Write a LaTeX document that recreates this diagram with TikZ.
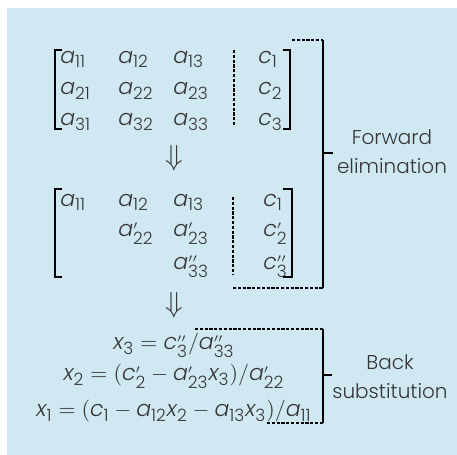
\documentclass[tikz,border=0pt]{standalone}
\usepackage{amsmath}
\usepackage{fontspec}
\setmainfont{Poppins}[UprightFont=* Light, ItalicFont=* Light Italic]
\usepackage{tikz}
\usetikzlibrary{arrows.meta}

\definecolor{panelblue}{RGB}{207,232,242}
\definecolor{inkgray}{RGB}{55,55,55}
\DeclareMathSizes{11}{11}{8.5}{6.5}
\newcommand{\va}[1]{\text{\itshape #1}}
\newcommand{\ix}[1]{\text{#1}}
\newcommand{\pa}{{\scriptscriptstyle\prime}}
\newcommand{\pb}{{\scriptscriptstyle\prime\prime}}

\tikzset{
  entry/.style={anchor=base west,inner sep=0pt,text height=7pt,text depth=2pt,text=inkgray,font=\fontsize{11}{13}\selectfont},
  eqline/.style={anchor=base,inner sep=0pt,text height=7pt,text depth=2pt,text=inkgray,font=\fontsize{11}{13}\selectfont},
  sidetext/.style={align=center,inner sep=0pt,text=inkgray,font=\fontsize{10}{14.5}\selectfont},
  stepsign/.style={inner sep=0pt,text=inkgray,font=\fontsize{15}{15}\selectfont},
  brk/.style={line width=1pt},
  dashbrk/.style={line width=1pt,dash pattern=on 1.6pt off 0.8pt}
}

\begin{document}
\begin{tikzpicture}[x=0.5pt,y=-0.5pt]
\useasboundingbox (0,0) rectangle (457,455);
\fill[panelblue] (7,8) rectangle (457,455);

% first matrix
\foreach \r/\y in {1/63,2/95,3/126}{
  \node[entry] (m1a\r1) at (60,\y) {$\va{a}_{\ix{\r1}}$};
  \node[entry] (m1a\r2) at (118,\y) {$\va{a}_{\ix{\r2}}$};
  \node[entry] (m1a\r3) at (173,\y) {$\va{a}_{\ix{\r3}}$};
  \node[entry] (m1c\r) at (258,\y) {$\va{c}_{\ix{\r}}$};
}
\draw[brk] (62,50)--(55,50)--(55,129)--(62,129);
\draw[brk] (283,50)--(290,50)--(290,129)--(283,129);
\draw[dashbrk] (234,50)--(234,125);

\node[stepsign] (down1) at (174,158) {$\Downarrow$};

% second matrix
\node[entry] (m2a11) at (60,206) {$\va{a}_{\ix{11}}$};
\node[entry] (m2a12) at (118,206) {$\va{a}_{\ix{12}}$};
\node[entry] (m2a13) at (173,206) {$\va{a}_{\ix{13}}$};
\node[entry] (m2c1) at (263,206) {$\va{c}_{\ix{1}}$};
\node[entry] (m2a22) at (118,237) {$\va{a}^{\pa}_{\ix{22}}$};
\node[entry] (m2a23) at (173,237) {$\va{a}^{\pa}_{\ix{23}}$};
\node[entry] (m2c2) at (263,237) {$\va{c}^{\pa}_{\ix{2}}$};
\node[entry] (m2a33) at (173,270) {$\va{a}^{\pb}_{\ix{33}}$};
\node[entry] (m2c3) at (263,270) {$\va{c}^{\pb}_{\ix{3}}$};
\draw[brk] (62,189)--(55,189)--(55,277)--(62,277);
\draw[brk] (283,189)--(292,189)--(292,277)--(283,277);
\draw[dashbrk] (233,197)--(233,275);

\node[stepsign] (down2) at (174,305) {$\Downarrow$};

% back substitution
\node[eqline] (eq3) at (174,350) {$\va{x}_{\ix{3}}=\va{c}^{\pb}_{\ix{3}}/\va{a}^{\pb}_{\ix{33}}$};
\node[eqline] (eq2) at (174,381) {$\va{x}_{\ix{2}}=(\va{c}^{\pa}_{\ix{2}}-\va{a}^{\pa}_{\ix{23}}\va{x}_{\ix{3}})/\va{a}^{\pa}_{\ix{22}}$};
\node[eqline] (eq1) at (174,417) {$\va{x}_{\ix{1}}=(\va{c}_{\ix{1}}-\va{a}_{\ix{12}}\va{x}_{\ix{2}}-\va{a}_{\ix{13}}\va{x}_{\ix{3}})/\va{a}_{\ix{11}}$};

% side brackets
\coordinate (fwtop) at (323,40);
\coordinate (fwbot) at (323,288);
\coordinate (fwtick) at (323,153);
\draw[dashbrk] (292,40)--(fwtop);
\draw[dashbrk] (233,288)--(fwbot);
\draw[brk] (fwtop)--(fwbot);
\draw[brk] (fwtick)--++(10,0);
\node[sidetext] (fwtext) at (392,152) {Forward\\elimination};

\coordinate (bstop) at (323,329);
\coordinate (bsbot) at (323,423);
\coordinate (bstick) at (323,375);
\draw[dashbrk] (195,329)--(bstop);
\draw[dashbrk] (267,423)--(bsbot);
\draw[brk] (bstop)--(bsbot);
\draw[brk] (bstick)--++(9,0);
\node[sidetext] (bstext) at (390,377) {Back\\substitution};
\end{tikzpicture}
\end{document}
